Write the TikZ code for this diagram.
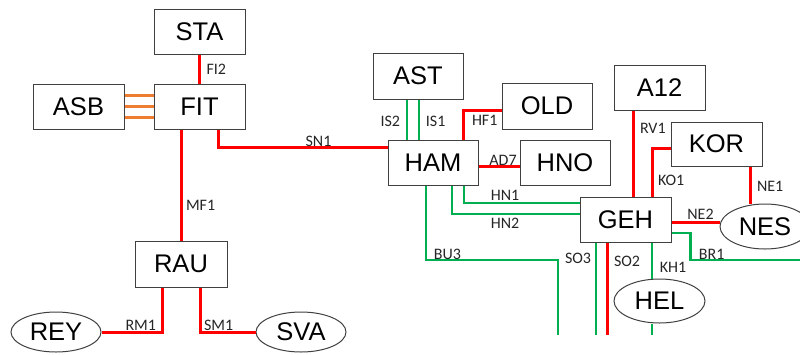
\documentclass[tikz,border=0pt]{standalone}
\usepackage{fontspec}
\setmainfont{Liberation Sans}
\newfontfamily\lblfont{Carlito}
\usepackage{xcolor}
\usepackage{tikz}
\usetikzlibrary{shapes, arrows.meta, positioning, backgrounds}

\definecolor{linered}{RGB}{255,0,0}
\definecolor{linegreen}{RGB}{0,176,80}
\definecolor{lineorange}{RGB}{237,125,49}

\begin{document}
\begin{tikzpicture}[
    x=1pt, y=-1pt,
    box/.style={draw=black!75, line width=1pt, fill=white, font=\fontsize{25.5}{28}\selectfont, minimum width=91pt, minimum height=45pt, inner sep=0pt},
    oval/.style={box, ellipse, minimum width=90pt, minimum height=40pt},
    redline/.style={draw=linered, line width=3pt},
    greenline/.style={draw=linegreen, line width=2.8pt},
    orangeline/.style={draw=lineorange, line width=2.4pt},
    lbl/.style={font=\lblfont\fontsize{16}{18}\selectfont, text=black!85, inner sep=0.5pt}
]
    \useasboundingbox (0,0) rectangle (800,354);

    % Stations on the left branch.
    \node[box] (STA) at (199.5, 31.5) {STA};
    \node[box] (FIT) at (199.5, 106.5) {FIT};
    \node[box] (ASB) at (78.5, 106.5) {ASB};
    \node[box, minimum width=92pt, minimum height=46pt] (RAU) at (181, 264) {RAU};
    \node[oval] (REY) at (56, 332) {REY};
    \node[oval] (SVA) at (301, 332) {SVA};

    % Stations on the right side.
    \node[box, minimum width=90pt, minimum height=46pt] (AST) at (418, 76) {AST};
    \node[box, minimum width=90pt] (HAM) at (433, 162.5) {HAM};
    \node[box, minimum width=90pt, minimum height=46pt] (OLD) at (547, 106) {OLD};
    \node[box, minimum width=90pt] (HNO) at (565, 162.5) {HNO};
    \node[box] (A12) at (659.5, 87.5) {A12};
    \node[box, minimum height=44pt] (KOR) at (716.5, 144) {KOR};
    \node[box] (GEH) at (625.5, 219.5) {GEH};
    \node[oval, minimum height=45pt] (NES) at (765, 226.5) {NES};
    \node[oval, minimum width=91pt, minimum height=44pt] (HEL) at (659.5, 301) {HEL};

    % Free ends of the lines leaving the picture.
    \coordinate (bu3end) at (558, 335);
    \coordinate (so3end) at (596, 335);
    \coordinate (so2end) at (607, 335);
    \coordinate (kh1end) at (652, 335);
    \coordinate (br1end) at (800, 260);

    % ASB - FIT triple link.
    \draw[orangeline] ([yshift=11pt]ASB.east) -- ([yshift=11pt]FIT.west);
    \draw[orangeline] (ASB.east) -- (FIT.west);
    \draw[orangeline] ([yshift=-11pt]ASB.east) -- ([yshift=-11pt]FIT.west);

    % Red lines.
    \draw[redline] (STA) -- (FIT) node[lbl, midway, anchor=west, xshift=5pt] {FI2};
    \draw[redline] (RAU.north |- FIT.south) -- (RAU.north) node[lbl, anchor=west] at (184, 205) {MF1};
    \draw[redline] ([xshift=18.5pt]FIT.south) |- ([yshift=15.5pt]HAM.west) node[lbl, anchor=base] at (318.5, 146) {SN1};
    \draw[redline] ([xshift=-19pt]RAU.south) |- (REY.east) node[lbl, anchor=base east] at (158, 330) {RM1};
    \draw[redline] ([xshift=19pt]RAU.south) |- (SVA.west) node[lbl, anchor=base west] at (202, 330) {SM1};
    \draw[redline] ([xshift=30pt]HAM.north) |- ([yshift=-4pt]OLD.west) node[lbl, anchor=west] at (470, 120) {HF1};
    \draw[redline] ([yshift=-3.5pt]HAM.east) -- ([yshift=-3.5pt]HNO.west) node[lbl, anchor=base] at (503, 165) {AD7};
    \draw[redline] ([xshift=-26.5pt]A12.south) -- ([xshift=7.5pt]GEH.north) node[lbl, anchor=west] at (638, 128) {RV1};
    \draw[redline] ([xshift=26.5pt]GEH.north) |- ([yshift=-4pt]KOR.west) node[lbl, anchor=west] at (656, 180) {KO1};
    \draw[redline] ([xshift=33.5pt]KOR.south) -- ([xshift=33.5pt]KOR.south |- NES.north) node[lbl, anchor=west] at (755, 186) {NE1};
    \draw[redline] ([yshift=-2.5pt]GEH.east) -- ([yshift=-2.5pt]GEH.east -| NES.west) node[lbl, anchor=base] at (700.5, 219) {NE2};
    \draw[redline] (GEH.south -| so2end) -- (so2end) node[lbl, anchor=west] at (612, 261) {SO2};

    % Green lines.
    \draw[greenline] ([xshift=-11pt]AST.south) -- ([xshift=-26pt]HAM.north) node[lbl, anchor=east] at (402, 121) {IS2};
    \draw[greenline] ([xshift=1pt]AST.south) -- ([xshift=-14pt]HAM.north) node[lbl, anchor=west] at (424, 121) {IS1};
    \draw[greenline] ([xshift=31pt]HAM.south) |- ([yshift=16.5pt]GEH.west) node[lbl, anchor=base west] at (489, 200) {HN1};
    \draw[greenline] ([xshift=19pt]HAM.south) |- ([yshift=5.5pt]GEH.west) node[lbl, anchor=base west] at (489, 228) {HN2};
    \draw[greenline] ([xshift=-7pt]HAM.south) |- (bu3end |- br1end) -- (bu3end) node[lbl, anchor=base west] at (432, 259) {BU3};
    \draw[greenline] (GEH.south -| so3end) -- (so3end) node[lbl, anchor=east] at (593, 258) {SO3};
    \draw[greenline] (GEH.south -| kh1end) -- (kh1end |- HEL.north) node[lbl, anchor=west] at (658, 267) {KH1};
    \draw[greenline] (kh1end |- HEL.south) -- (kh1end);
    \draw[greenline] ([yshift=-13.5pt]GEH.east) -- ++(19,0) |- (br1end) node[lbl, anchor=base west] at (697, 259) {BR1};
\end{tikzpicture}
\end{document}
